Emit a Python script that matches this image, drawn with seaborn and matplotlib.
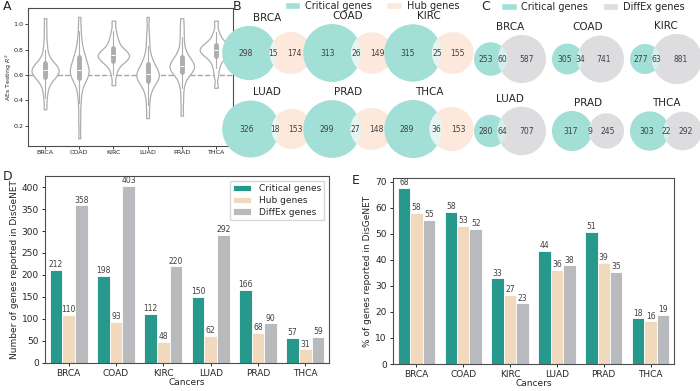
import numpy as np
import pandas as pd
import matplotlib
matplotlib.use("Agg")
import matplotlib.pyplot as plt
from matplotlib.patches import Circle, Patch
import seaborn as sns

# -------------------------------
# Data
# -------------------------------
cancers = ["BRCA", "COAD", "KIRC", "LUAD", "PRAD", "THCA"]

# A: AEs testing R^2 per cancer (values estimated from the violin shapes)
r2_brca = [0.33, 0.42, 0.48, 0.52, 0.55, 0.57, 0.58, 0.59, 0.60, 0.61, 0.62, 0.63, 0.63,
           0.64, 0.64, 0.65, 0.66, 0.67, 0.68, 0.69, 0.70, 0.72, 0.75, 0.80, 0.86, 0.95, 1.05]
r2_coad = [0.10, 0.25, 0.38, 0.46, 0.52, 0.56, 0.58, 0.59, 0.60, 0.61, 0.62, 0.63, 0.64,
           0.65, 0.66, 0.68, 0.70, 0.72, 0.74, 0.76, 0.78, 0.82, 0.88, 0.95, 1.06]
r2_kirc = [0.52, 0.60, 0.65, 0.68, 0.70, 0.71, 0.72, 0.73, 0.74, 0.75, 0.76, 0.76, 0.77,
           0.78, 0.79, 0.80, 0.82, 0.84, 0.87, 0.90, 0.95, 1.03]
r2_luad = [0.26, 0.36, 0.44, 0.49, 0.52, 0.54, 0.56, 0.57, 0.58, 0.59, 0.60, 0.61, 0.61,
           0.62, 0.64, 0.66, 0.68, 0.69, 0.72, 0.76, 0.83, 0.92, 1.06]
r2_prad = [0.28, 0.40, 0.50, 0.56, 0.60, 0.62, 0.63, 0.64, 0.65, 0.66, 0.67, 0.67, 0.68,
           0.69, 0.70, 0.72, 0.73, 0.75, 0.78, 0.83, 0.90, 0.97, 1.05]
r2_thca = [0.50, 0.60, 0.66, 0.70, 0.73, 0.75, 0.76, 0.77, 0.78, 0.79, 0.80, 0.80, 0.81,
           0.82, 0.83, 0.84, 0.85, 0.87, 0.90, 0.94, 1.03]

# B: critical genes vs hub genes (only critical, shared, only hub)
crit_only_b = [298, 313, 315, 326, 299, 289]
shared_b = [15, 26, 25, 18, 27, 36]
hub_only_b = [174, 149, 155, 153, 148, 153]

# C: critical genes vs DiffEx genes
crit_only_c = [253, 305, 277, 280, 317, 303]
shared_c = [60, 34, 63, 64, 9, 22]
diffex_only_c = [587, 741, 881, 707, 245, 292]

# D: number of genes reported in DisGeNET
n_critical = [212, 198, 112, 150, 166, 57]
n_hub = [110, 93, 48, 62, 68, 31]
n_diffex = [358, 403, 220, 292, 90, 59]

# E: % of genes reported in DisGeNET
pct_critical = [67.7, 58.4, 32.9, 43.6, 50.9, 17.5]
pct_hub = [58.2, 53.1, 26.7, 36.3, 38.9, 16.4]
pct_diffex = [55.3, 52.0, 23.3, 37.9, 35.4, 18.8]

gene_types = ["Critical genes", "Hub genes", "DiffEx genes"]

# colours
bar_colors = ["#26998c", "#f1d9bd", "#b9babe"]
venn_teal = "#a2dfd7"
venn_peach = "#fde9dc"
venn_gray = "#dddddf"
lens_b = "#e6f5f1"
lens_c = "#d5efed"

sns.set_style("ticks")
plt.rcParams["font.family"] = ["DejaVu Sans"]

W, H = 700, 391
fig = plt.figure(figsize=(7, 3.91), dpi=100)


def px_axes(x0, y0, x1, y1):
    # axes from pixel box (top-left origin)
    return fig.add_axes([x0 / W, 1 - y1 / H, (x1 - x0) / W, (y1 - y0) / H])


# -------------------------------
# Panel A: violins
# -------------------------------
axA = px_axes(28, 8, 233, 146)
df_r2 = pd.DataFrame({
    "cancer": np.repeat(cancers, [len(r2_brca), len(r2_coad), len(r2_kirc),
                                  len(r2_luad), len(r2_prad), len(r2_thca)]),
    "r2": r2_brca + r2_coad + r2_kirc + r2_luad + r2_prad + r2_thca,
})
axA.axhline(0.6, ls="--", color="0.65", lw=1.0, zorder=0)
sns.violinplot(data=df_r2, x="cancer", y="r2", color="white", linecolor="0.68",
               linewidth=0.9, inner="box", cut=0, bw_adjust=0.55, width=0.95,
               inner_kws=dict(box_width=3.5, whis_width=0.8), ax=axA)
axA.set_ylim(0.04, 1.13)
axA.set_xlim(-0.5, 5.5)
axA.set_xlabel("")
axA.set_ylabel("AEs Testing $R^2$", fontsize=4.5)
axA.yaxis.set_label_coords(-0.07, 0.5)
axA.tick_params(labelsize=4.6, length=2, width=0.6, pad=1.2)
for s in axA.spines.values():
    s.set_linewidth(0.8)
    s.set_color("0.3")


# -------------------------------
# Venn helper (area proportional)
# -------------------------------
def lens_area(r1, r2, d):
    if d >= r1 + r2:
        return 0.0
    if d <= abs(r1 - r2):
        return np.pi * min(r1, r2) ** 2
    a1 = r1 ** 2 * np.arccos((d * d + r1 * r1 - r2 * r2) / (2 * d * r1))
    a2 = r2 ** 2 * np.arccos((d * d + r2 * r2 - r1 * r1) / (2 * d * r2))
    a3 = 0.5 * np.sqrt((-d + r1 + r2) * (d + r1 - r2) * (d - r1 + r2) * (d + r1 + r2))
    return a1 + a2 - a3


def draw_venn(ax, a_only, ab, b_only, col_a, col_b, col_ab, title):
    total = a_only + ab + b_only
    ra = np.sqrt((a_only + ab) / total / np.pi)
    rb = np.sqrt((b_only + ab) / total / np.pi)
    target = ab / total
    lo, hi = abs(ra - rb) + 1e-9, ra + rb
    for _ in range(60):
        mid = (lo + hi) / 2
        if lens_area(ra, rb, mid) > target:
            lo = mid
        else:
            hi = mid
    d = (lo + hi) / 2
    xa, xb = 0.0, d
    ca = Circle((xa, 0), ra, fc=col_a, ec="none")
    cb = Circle((xb, 0), rb, fc=col_b, ec="none")
    ax.add_patch(ca)
    ax.add_patch(cb)
    cab = Circle((xb, 0), rb, fc=col_ab, ec="none")
    ax.add_patch(cab)
    cab.set_clip_path(ca)
    kw = dict(ha="center", va="center", fontsize=5.5, color="0.25")
    ax.text(((xa - ra) + (xb - rb)) / 2, 0, str(a_only), **kw)
    ax.text(((xb - rb) + (xa + ra)) / 2, 0, str(ab), **kw)
    ax.text(((xa + ra) + (xb + rb)) / 2, 0, str(b_only), **kw)
    m = 0.02
    rmax = max(ra, rb)
    ax.set_xlim(xa - ra - m, xb + rb + m)
    ax.set_ylim(-rmax - m, rmax + m)
    ax.set_aspect("equal")
    ax.set_axis_off()
    ax.set_title(title, fontsize=7.5, pad=3)


# Panel B
b_cx = [267, 348, 429]
b_cy = [53, 129]
for i, c in enumerate(cancers):
    cx = b_cx[i % 3]
    cy = b_cy[i // 3]
    ax = px_axes(cx - 46, cy - 33, cx + 46, cy + 33)
    draw_venn(ax, crit_only_b[i], shared_b[i], hub_only_b[i],
              venn_teal, venn_peach, lens_b, c)

# Panel C
c_cx = [510, 588, 666]
c_cy = [59, 131]
for i, c in enumerate(cancers):
    cx = c_cx[i % 3]
    cy = c_cy[i // 3]
    ax = px_axes(cx - 37, cy - 30, cx + 37, cy + 30)
    draw_venn(ax, crit_only_c[i], shared_c[i], diffex_only_c[i],
              venn_teal, venn_gray, lens_c, c)

fig.legend(handles=[Patch(fc=venn_teal, label="Critical genes"),
                    Patch(fc=venn_peach, label="Hub genes")],
           loc="center", bbox_to_anchor=(372 / W, 1 - 6 / H), ncol=2, frameon=False,
           fontsize=7, handlelength=1.6, handleheight=0.7, columnspacing=1.5,
           handletextpad=0.5)
fig.legend(handles=[Patch(fc=venn_teal, label="Critical genes"),
                    Patch(fc=venn_gray, label="DiffEx genes")],
           loc="center", bbox_to_anchor=(593 / W, 1 - 7 / H), ncol=2, frameon=False,
           fontsize=7, handlelength=1.6, handleheight=0.7, columnspacing=1.5,
           handletextpad=0.5)

# -------------------------------
# Panels D and E: bars
# -------------------------------
df_n = pd.DataFrame({
    "Cancers": cancers * 3,
    "value": n_critical + n_hub + n_diffex,
    "type": np.repeat(gene_types, len(cancers)),
})
df_pct = pd.DataFrame({
    "Cancers": cancers * 3,
    "value": pct_critical + pct_hub + pct_diffex,
    "type": np.repeat(gene_types, len(cancers)),
})

axD = px_axes(45, 176, 329, 363)
axE = px_axes(393, 178, 674, 364)

for ax, df, ylab in [(axD, df_n, "Number of genes reported in DisGeNET"),
                     (axE, df_pct, "% of genes reported in DisGeNET")]:
    sns.barplot(data=df, x="Cancers", y="value", hue="type", palette=bar_colors,
                saturation=1, edgecolor="white", linewidth=0.6, width=0.8, ax=ax)
    for cont in ax.containers:
        ax.bar_label(cont, fmt="%.0f", fontsize=5.5, padding=0.5, color="0.25")
    ax.set_ylabel(ylab, fontsize=6.5, labelpad=2)
    ax.set_xlabel("Cancers", fontsize=6.5, labelpad=0)
    ax.tick_params(labelsize=6.5, length=2.5, width=0.7, pad=2)
    for s in ax.spines.values():
        s.set_linewidth(0.8)
        s.set_color("0.3")

axD.set_ylim(0, 425)
axE.set_ylim(0, 71.5)
axD.legend(title=None, fontsize=6.5, loc="upper right", handlelength=2.0,
           borderpad=0.4, labelspacing=0.3)
axE.get_legend().remove()

# panel letters
for lab, x, y in [("A", 3, 7), ("B", 233, 7), ("C", 481, 7), ("D", 3, 176), ("E", 352, 181)]:
    fig.text(x / W, 1 - y / H, lab, fontsize=9, va="center", ha="left")

fig.savefig("out.png", dpi=100)
